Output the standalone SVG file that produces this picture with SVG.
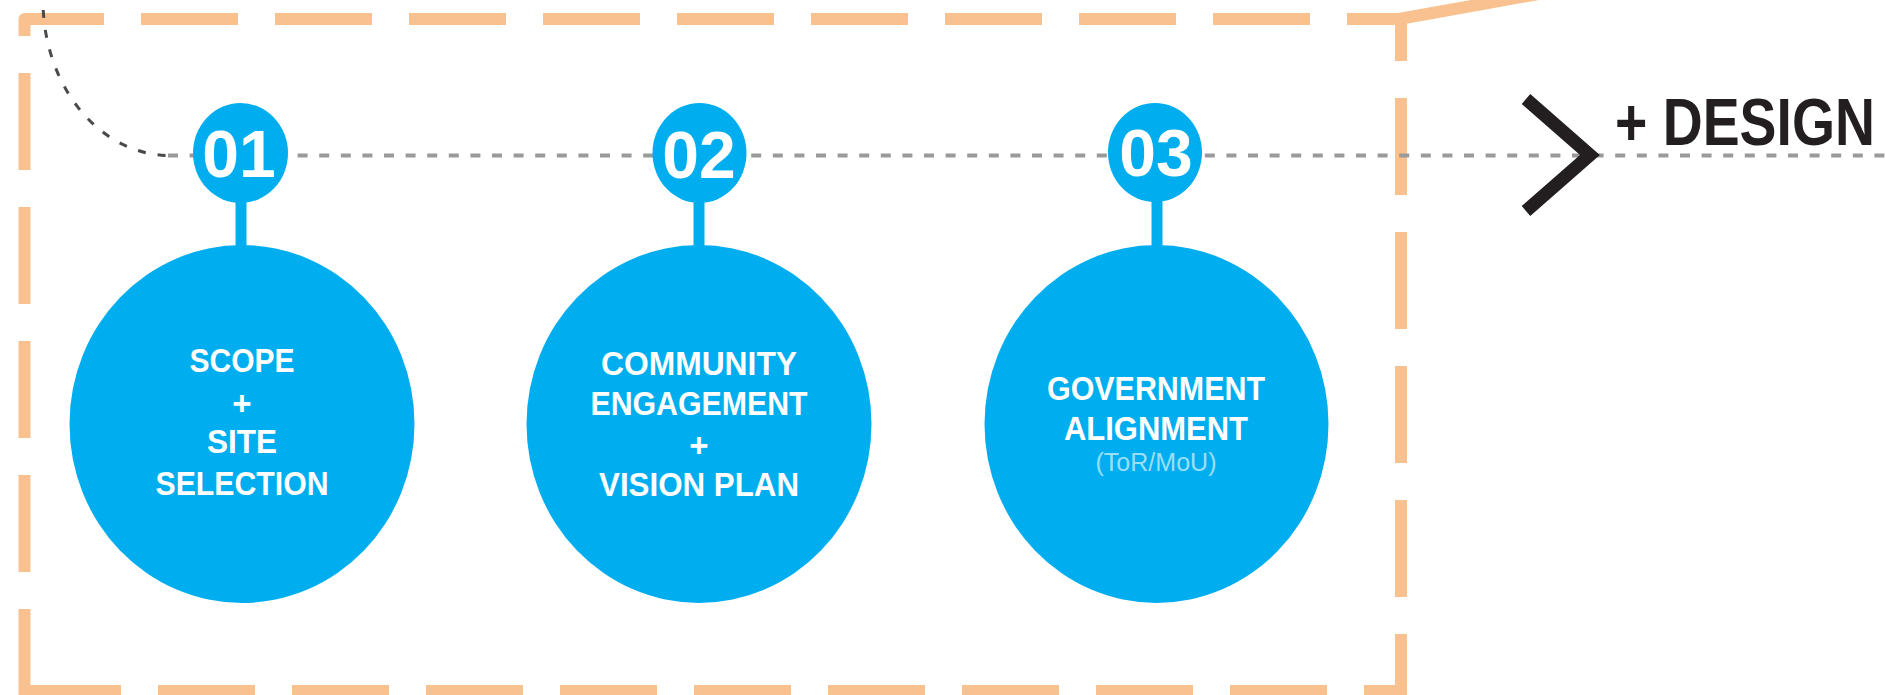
<svg xmlns="http://www.w3.org/2000/svg" width="1885" height="695" viewBox="0 0 1885 695">
  <defs>
    <style>
      .frame { fill: none; stroke: #F9C18F; stroke-width: 12; stroke-linecap: butt; }
      .fdash { stroke-dasharray: 97 37; }
      .bubble { fill: #00AEEF; }
      .stem { stroke: #00AEEF; stroke-width: 11; }
      .num { font-family: "Liberation Sans", Arial, sans-serif; font-weight: bold; font-size: 66px; fill: #FFFFFF; text-anchor: middle; }
      .lbl { font-family: "Liberation Sans", Arial, sans-serif; font-weight: bold; font-size: 33px; fill: #FFFFFF; text-anchor: middle; }
      .sub { font-family: "Liberation Sans", Arial, sans-serif; font-weight: normal; font-size: 25px; fill: #FFFFFF; fill-opacity: 0.62; text-anchor: middle; }
      .timeline { fill: none; stroke: #9A9A9A; stroke-width: 4; stroke-dasharray: 10 11.6; }
      .curve { fill: none; stroke: #4A4A4A; stroke-width: 3; stroke-dasharray: 8 12; }
      .chev { fill: none; stroke: #231F20; stroke-width: 13; stroke-linejoin: miter; stroke-miterlimit: 10; }
      .design { font-family: "Liberation Sans", Arial, sans-serif; font-weight: bold; font-size: 66px; fill: #231F20; }
    </style>
  </defs>

  <g id="frame">
    <!-- top-left rounded corner dash -->
    <path class="frame" d="M24.5,36 V19 H104" stroke-linejoin="round"/>
    <!-- top edge -->
    <line class="frame fdash" x1="104" y1="19" x2="1406" y2="19" stroke-dashoffset="97"/>
    <!-- left edge -->
    <line class="frame fdash" x1="24.5" y1="36" x2="24.5" y2="696" stroke-dashoffset="97"/>
    <!-- right edge -->
    <line class="frame fdash" x1="1401" y1="13" x2="1401" y2="697" stroke-dashoffset="49"/>
    <!-- bottom edge -->
    <line class="frame fdash" x1="18.5" y1="691" x2="1407" y2="691" stroke-dashoffset="128.5"/>
    <!-- diagonal leaving top-right corner -->
    <line class="frame" x1="1396" y1="19.5" x2="1600" y2="-17"/>
  </g>

  <g id="connectors">
    <path class="curve" d="M43,-30 L43,0 A127,155 0 0 0 168,155.5"/>
    <line class="timeline" x1="168" y1="155.5" x2="1885" y2="155.5"/>
    <polyline class="chev" points="1526,99 1590,155 1526,211"/>
  </g>

  <g id="node-01">
    <line class="stem" x1="241" y1="195" x2="241" y2="255"/>
    <ellipse class="bubble" cx="240.5" cy="153" rx="47.5" ry="50"/>
    <text class="num" x="239" y="177">01</text>
    <ellipse class="bubble" cx="242" cy="424" rx="172.5" ry="179"/>
    <text class="lbl" x="242" y="372" textLength="105" lengthAdjust="spacingAndGlyphs">SCOPE</text>
    <text class="lbl" x="242" y="415">+</text>
    <text class="lbl" x="242" y="453" textLength="70" lengthAdjust="spacingAndGlyphs">SITE</text>
    <text class="lbl" x="242" y="495" textLength="173" lengthAdjust="spacingAndGlyphs">SELECTION</text>
  </g>

  <g id="node-02">
    <line class="stem" x1="699" y1="195" x2="699" y2="255"/>
    <ellipse class="bubble" cx="699.5" cy="153" rx="47" ry="50"/>
    <text class="num" x="699" y="177.5">02</text>
    <ellipse class="bubble" cx="699" cy="424" rx="172.5" ry="179"/>
    <text class="lbl" x="699" y="375" textLength="196" lengthAdjust="spacingAndGlyphs">COMMUNITY</text>
    <text class="lbl" x="699" y="415" textLength="217" lengthAdjust="spacingAndGlyphs">ENGAGEMENT</text>
    <text class="lbl" x="699" y="456.5">+</text>
    <text class="lbl" x="699" y="496" textLength="200" lengthAdjust="spacingAndGlyphs">VISION PLAN</text>
  </g>

  <g id="node-03">
    <line class="stem" x1="1157" y1="195" x2="1157" y2="255"/>
    <ellipse class="bubble" cx="1155" cy="152.5" rx="47" ry="49.5"/>
    <text class="num" x="1156" y="176">03</text>
    <ellipse class="bubble" cx="1156.5" cy="424" rx="172" ry="179"/>
    <text class="lbl" x="1156" y="400" textLength="218" lengthAdjust="spacingAndGlyphs">GOVERNMENT</text>
    <text class="lbl" x="1156" y="440" textLength="184" lengthAdjust="spacingAndGlyphs">ALIGNMENT</text>
    <text class="sub" x="1156" y="471" textLength="121" lengthAdjust="spacingAndGlyphs">(ToR/MoU)</text>
  </g>

  <g id="design-label">
    <text class="design" transform="translate(1615 145) scale(0.839 1)">+ DESIGN</text>
  </g>
</svg>
